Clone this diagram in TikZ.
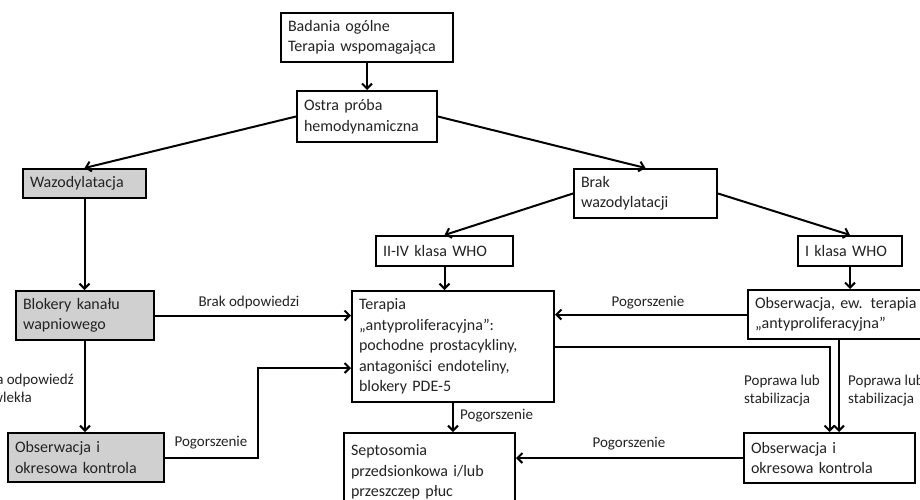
\documentclass[tikz,border=0pt]{standalone}
\usepackage{fontspec}
\setmainfont{Carlito}
\usetikzlibrary{arrows.meta}
\definecolor{boxgray}{RGB}{208,208,208}
\definecolor{txt}{RGB}{35,35,35}
\newcommand\boxfont{\fontsize{16}{20.5}\selectfont}
\newcommand\labfont{\fontsize{15}{18}\selectfont}
\begin{document}
\begin{tikzpicture}[x=1pt,y=-1pt,
  box/.style={draw=black, line width=2pt, align=left, inner xsep=7pt, inner ysep=0pt, font=\boxfont, text=txt},
  graybox/.style={box, fill=boxgray},
  lab/.style={font=\labfont, text=txt, inner sep=0pt, align=left},
  arr/.style={line width=2pt, -{Straight Barb[length=5pt,width=10pt,line width=2pt]}}]
\useasboundingbox (0,0) rectangle (920,499);
\clip (0,0) rectangle (920,499);
\fill[white] (0,0) rectangle (920,499);
% boxes
\node[box, minimum width=172pt, minimum height=49pt, text width=158pt] (b1) at (367,37.5) {Badania ogólne\\Terapia wspomagająca};
\node[box, minimum width=140pt, minimum height=51pt, text width=126pt] (b2) at (367,116.5) {Ostra próba\\hemodynamiczna};
\node[graybox, minimum width=123pt, minimum height=29pt, text width=109pt] (waz) at (84.5,183.5) {Wazodylatacja};
\node[box, minimum width=143pt, minimum height=49pt, text width=129pt] (brak) at (645.5,193.5) {Brak\\wazodylatacji};
\node[box, minimum width=137pt, minimum height=30pt, text width=123pt] (who24) at (444.5,251) {II-IV klasa WHO};
\node[box, minimum width=104pt, minimum height=30pt, text width=90pt] (who1) at (850,251) {I klasa WHO};
\node[graybox, minimum width=138pt, minimum height=49pt, text width=124pt] (blok) at (85,315.5) {Blokery kanału\\wapniowego};
\node[graybox, minimum width=156pt, minimum height=49pt, text width=142pt] (obsL) at (86,457.5) {Obserwacja i\\okresowa kontrola};
\node[box, minimum width=202pt, minimum height=111pt, text width=188pt] (ter) at (453,346.5) {Terapia\\„antyproliferacyjna”:\\pochodne prostacykliny,\\antagoniści endoteliny,\\blokery PDE-5};
\node[box, minimum width=171pt, minimum height=78pt, text width=157pt] (sep) at (429.5,472) {Septosomia\\przedsionkowa i/lub\\przeszczep płuc};
\node[box, minimum width=180pt, minimum height=49pt, text width=166pt] (obsEw) at (838,314.5) {Obserwacja, ew. terapia\\„antyproliferacyjna”};
\node[box, minimum width=171pt, minimum height=50pt, text width=157pt] (obsR) at (829.5,458) {Obserwacja i\\okresowa kontrola};
% helper coordinates
\coordinate (xleft) at (258,368);
\coordinate (xright) at (839,0);
% connectors
\draw[arr] (b1.south) -- (b2.north);
\draw[arr] (b2.west) -- (waz.north);
\draw[arr] (b2.east) -- (brak.north);
\draw[arr] (brak.west) -- (who24.north);
\draw[arr] (brak.east) -- (who1.north);
\draw[arr] (who24.south) -- (who24.south |- ter.north);
\draw[arr] (who1.south) -- (who1.south |- obsEw.north);
\draw[arr] (waz.south) -- (waz.south |- blok.north);
\draw[arr] (blok.south) -- (blok.south |- obsL.north);
\draw[arr] (blok.east) -- (blok.east -| ter.west);
\draw[arr] (obsL.east) -| (xleft) -- (xleft -| ter.west);
\draw[arr] (obsEw.west) -- (obsEw.west -| ter.east);
\draw[arr] (ter.east) -| (obsR.north);
\draw[arr] (obsEw.south -| xright) -- (obsR.north -| xright);
\draw[arr] (obsR.west) -- (obsR.west -| sep.east);
\draw[arr] (ter.south) -- (ter.south |- sep.north);
% labels
\node[lab] (l1) at (249,302) {Brak odpowiedzi};
\node[lab] (l2) at (211,443) {Pogorszenie};
\node[lab] (l3) at (648,303) {Pogorszenie};
\node[lab, anchor=west] (l4) at (460,416) {Pogorszenie};
\node[lab] (l5) at (629,444) {Pogorszenie};
\node[lab, anchor=west] (l6) at (744,391) {Poprawa lub\\stabilizacja};
\node[lab, anchor=west] (l7) at (848,391) {Poprawa lub\\stabilizacja};
\node[lab, anchor=east] (l8) at (74,389) {Dobra odpowiedź\\przewlekła};
\end{tikzpicture}
\end{document}
